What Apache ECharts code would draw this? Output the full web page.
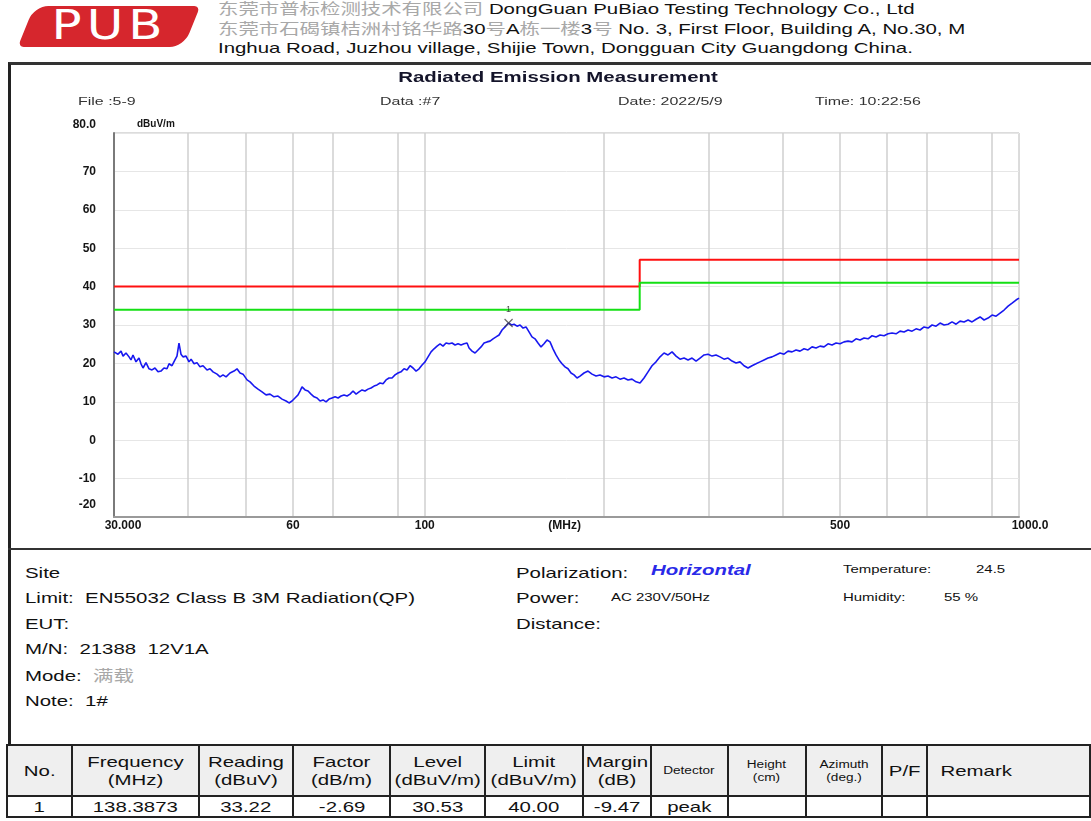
<!DOCTYPE html>
<html>
<head>
<meta charset="utf-8">
<title>Radiated Emission Measurement</title>
<script src="https://cdn.jsdelivr.net/npm/echarts@6/dist/echarts.min.js"></script>
<style>
html,body{margin:0;padding:0;background:#fff;}
body{width:1091px;height:821px;position:relative;overflow:hidden;font-family:'Liberation Sans',Arial,sans-serif;color:#111;}
.abs{position:absolute;white-space:nowrap;}
.sx{transform:scaleX(1.36);transform-origin:0 50%;}
.cn{font-family:'Noto Sans CJK SC',sans-serif;color:#a8a8a8;}
#logo{position:absolute;left:26px;top:6px;width:166px;height:41px;background:#d6262d;border-radius:14px 6px 14px 6px;transform:skewX(-22deg);}
#logo span{position:absolute;left:0;right:0;top:-4px;text-align:center;transform:skewX(22deg) scaleX(1.25);color:#fff;font:40px 'DejaVu Sans',sans-serif;letter-spacing:4px;}
#frame{position:absolute;left:8px;top:62px;width:1090px;height:683px;border-left:3px solid #222;border-top:3px solid #333;}
#sep{position:absolute;left:8px;top:548px;width:1090px;height:2px;background:#333;}
#chart{position:absolute;left:0;top:62px;width:1091px;height:487px;}
.info{font-size:15px;line-height:25.4px;}
.small{font-size:11px;}
table{position:absolute;left:6px;top:744px;border-collapse:collapse;table-layout:fixed;}
td{border:2px solid #222;text-align:center;padding:0;font-size:15px;line-height:18px;overflow:hidden;white-space:nowrap;}
tr.head td{background:#efefef;height:49px;}
tr.body td{background:#fff;height:19px;}
td span{display:inline-block;transform:scaleX(1.36);}
td.sm{font-size:10px;line-height:13px;}
</style>
</head>
<body>
<div id="logo"><span>PUB</span></div>
<div class="abs sx" style="left:218px;top:-2px;font-size:15px;line-height:19px;">
  <div><span class="cn">东莞市普标检测技术有限公司</span> DongGuan PuBiao Testing Technology Co., Ltd</div>
  <div><span class="cn">东莞市石碣镇桔洲村铭华路</span>30<span class="cn">号</span>A<span class="cn">栋一楼</span>3<span class="cn">号</span> No. 3, First Floor, Building A, No.30, M</div>
  <div>Inghua Road, Juzhou village, Shijie Town, Dongguan City Guangdong China.</div>
</div>

<div id="frame"></div>
<div id="chart"></div>
<div id="sep"></div>

<div class="abs sx info" style="left:25px;top:560px;">
  <div>Site</div>
  <div>Limit:&nbsp; EN55032 Class B 3M Radiation(QP)</div>
  <div>EUT:</div>
  <div>M/N:&nbsp; 21388&nbsp; 12V1A</div>
  <div>Mode:&nbsp; <span class="cn">满载</span></div>
  <div>Note:&nbsp; 1#</div>
</div>
<div class="abs sx info" style="left:516px;top:560px;">
  <div>Polarization:</div>
  <div>Power:</div>
  <div>Distance:</div>
</div>
<div class="abs sx" style="left:651px;top:561px;font-size:15px;font-weight:bold;font-style:italic;color:#2a2ae8;">Horizontal</div>
<div class="abs sx small" style="left:611px;top:591px;">AC 230V/50Hz</div>
<div class="abs sx small" style="left:843px;top:563px;">Temperature:</div>
<div class="abs sx small" style="left:976px;top:563px;">24.5</div>
<div class="abs sx small" style="left:843px;top:591px;">Humidity:</div>
<div class="abs sx small" style="left:944px;top:591px;">55 %</div>

<table id="tbl"></table>

<script>
// measured trace (MHz / dBuV/m)
const freq = [
  30.00, 30.23, 30.47, 30.83, 31.07, 31.43, 31.80, 32.04, 32.29, 32.67,
  33.05, 33.31, 33.57, 33.96, 34.36, 34.76, 35.16, 35.58, 35.99, 36.41,
  36.84, 37.13, 37.56, 37.99, 38.29, 38.59, 38.89, 39.19, 39.66, 40.12,
  40.44, 40.91, 41.38, 41.86, 42.36, 43.02, 43.52, 44.03, 44.72, 45.24,
  45.77, 46.31, 47.03, 47.76, 48.32, 48.89, 49.46, 50.24, 50.82, 51.61,
  52.42, 53.24, 54.07, 54.91, 55.77, 56.64, 57.53, 58.43, 59.11, 59.80,
  60.49, 61.21, 61.68, 62.16, 62.90, 63.63, 64.37, 65.13, 65.89, 66.66,
  67.44, 68.22, 69.02, 69.83, 70.65, 71.48, 72.31, 73.15, 74.01, 74.87,
  75.75, 76.64, 77.53, 78.44, 79.35, 80.28, 81.22, 82.17, 83.13, 84.10,
  85.08, 86.08, 87.08, 88.10, 89.13, 90.17, 91.22, 92.30, 93.38, 94.47,
  95.57, 96.69, 97.83, 98.97, 100.12, 101.29, 102.48, 103.68, 104.89, 106.12,
  107.35, 108.61, 109.88, 111.17, 112.47, 113.78, 115.11, 116.46, 117.82, 118.74,
  120.12, 121.53, 122.94, 124.38, 125.84, 127.31, 128.80, 130.30, 131.83, 133.37,
  134.93, 136.50, 138.3873, 140.01, 141.35, 143.00, 144.68, 146.37, 148.07, 149.80,
  151.54, 153.31, 155.10, 156.92, 158.75, 160.62, 162.49, 164.39, 166.31, 168.26,
  170.22, 172.22, 174.23, 176.27, 178.34, 180.42, 182.53, 185.38, 188.27, 191.21,
  194.20, 197.23, 200.31, 203.43, 206.62, 209.85, 213.12, 216.46, 219.84, 223.26,
  226.75, 230.30, 233.89, 237.55, 241.26, 245.03, 248.86, 252.75, 256.71, 260.72,
  264.80, 268.93, 273.13, 277.39, 281.73, 286.14, 290.60, 295.13, 299.78, 304.46,
  309.16, 313.98, 318.88, 323.87, 328.93, 334.08, 339.29, 344.58, 349.96, 355.42,
  360.99, 366.62, 372.34, 378.17, 384.08, 390.08, 396.17, 402.35, 408.64, 415.02,
  421.51, 428.09, 434.77, 441.57, 448.47, 455.49, 462.60, 469.82, 477.16, 484.61,
  492.20, 499.88, 507.68, 515.62, 523.67, 531.87, 540.17, 548.60, 557.18, 565.88,
  574.73, 583.70, 592.81, 602.09, 611.49, 621.05, 630.74, 640.58, 650.61, 660.77,
  671.11, 681.58, 692.21, 703.04, 714.02, 725.20, 736.51, 748.00, 759.71, 771.58,
  783.64, 795.87, 808.29, 820.93, 833.76, 846.81, 860.02, 873.44, 887.10, 900.96,
  915.05, 929.33, 943.83, 958.59, 973.57, 988.45, 1000
]
const level = [
  23.0, 23.5, 22.4, 23.2, 21.9, 22.7, 21.7, 20.9, 22.2, 20.4,
  21.4, 19.9, 18.8, 20.2, 18.6, 18.3, 18.8, 17.8, 18.0, 18.8,
  18.6, 19.9, 19.4, 20.9, 21.9, 25.3, 22.4, 21.7, 21.9, 20.4,
  21.1, 19.9, 20.2, 19.1, 19.4, 18.3, 18.6, 17.8, 17.2, 16.5,
  17.0, 16.5, 17.5, 18.0, 18.6, 17.5, 17.2, 15.7, 15.2, 14.1,
  13.3, 12.6, 11.8, 12.0, 11.3, 11.5, 10.7, 10.2, 9.7, 10.2,
  11.0, 11.8, 12.8, 13.9, 13.1, 12.8, 12.0, 11.3, 11.0, 10.2,
  10.5, 10.0, 10.7, 11.0, 11.3, 11.0, 11.5, 11.8, 11.5, 12.0,
  12.8, 12.0, 12.6, 13.1, 12.8, 13.3, 13.6, 14.1, 14.4, 14.9,
  14.7, 15.7, 16.2, 16.2, 17.0, 17.5, 17.8, 18.6, 18.3, 19.4,
  18.8, 18.0, 18.6, 19.6, 20.4, 21.7, 23.0, 23.8, 24.5, 25.1,
  24.5, 25.3, 25.1, 25.3, 24.8, 25.1, 24.8, 25.1, 25.3, 24.0,
  23.2, 22.7, 23.5, 24.3, 25.3, 25.6, 25.8, 26.4, 26.9, 27.4,
  28.7, 29.5, 30.53, 30.0, 30.2, 29.7, 30.0, 29.2, 29.5, 28.2,
  26.9, 26.4, 25.3, 24.3, 25.1, 26.1, 25.6, 23.8, 22.2, 20.9,
  19.9, 19.1, 18.6, 17.5, 17.0, 16.2, 16.7, 17.5, 18.0, 17.2,
  16.7, 17.0, 16.5, 16.7, 16.2, 16.5, 15.9, 16.2, 15.7, 15.9,
  15.2, 14.9, 16.2, 17.8, 19.4, 20.4, 21.7, 22.7, 22.2, 23.0,
  21.9, 21.1, 21.4, 20.9, 21.4, 20.6, 21.4, 22.2, 22.4, 21.9,
  22.2, 21.7, 21.1, 21.4, 20.6, 20.1, 20.4, 19.4, 18.8, 19.4,
  19.9, 20.4, 20.9, 21.4, 21.7, 22.2, 22.7, 22.4, 23.2, 23.0,
  23.5, 23.2, 23.8, 23.5, 24.3, 24.0, 24.5, 24.3, 25.1, 24.8,
  25.3, 25.1, 25.6, 25.8, 25.6, 26.4, 26.1, 26.6, 26.4, 27.2,
  26.9, 27.4, 27.2, 27.7, 27.9, 27.7, 28.4, 28.2, 28.7, 28.4,
  29.0, 28.7, 29.5, 29.2, 30.0, 29.7, 30.5, 30.0, 30.2, 30.8,
  30.2, 31.0, 30.8, 31.3, 30.8, 31.5, 32.1, 31.3, 31.8, 32.6,
  32.3, 33.1, 33.9, 34.9, 35.7, 36.5, 37.0
]

// EN55032 class B limit and the -6 dB line
const limitFreq = [30, 230, 230, 1000]
const limitQP = [40, 40, 47, 47]
const limitWarn = [34, 34, 41, 41]

// peak marker
const peakFreq = [138.3873]
const peakLevel = [30.53]
const peakNo = ['1']

// axis
const xGridValues = [40, 50, 60, 70, 90, 100, 200, 300, 400, 500, 600, 700, 900]
const xLabelValues = [30, 60, 100, 172, 500, 1000]
const xLabelText = ['30.000', '60', '100', '(MHz)', '500', '1000.0']

// table
const tableHead = ['No.', 'Frequency<br>(MHz)', 'Reading<br>(dBuV)', 'Factor<br>(dB/m)', 'Level<br>(dBuV/m)',
  'Limit<br>(dBuV/m)', 'Margin<br>(dB)', 'Detector', 'Height<br>(cm)', 'Azimuth<br>(deg.)', 'P/F', 'Remark']
const tableRow = ['1', '138.3873', '33.22', '-2.69', '30.53', '40.00', '-9.47', 'peak', '', '', '', '']
const colWidth = [65, 127, 95, 97, 95, 98, 68, 77, 78, 77, 45, 163]
const smallCols = [7, 8, 9]

function buildTable(){
  let html = '<colgroup>' + colWidth.map(w => `<col style="width:${w}px">`).join('') + '</colgroup>'
  html += '<tr class="head">' + tableHead.map((t, i) => {
    const cls = smallCols.includes(i) ? ' class="sm"' : ''
    const st = i === 11 ? ' style="text-align:left;padding-left:22px"' : ''
    return `<td${cls}${st}><span>${t}</span></td>`
  }).join('') + '</tr>'
  html += '<tr class="body">' + tableRow.map(t => `<td><span>${t}</span></td>`).join('') + '</tr>'
  document.getElementById('tbl').innerHTML = html
}

function nearestLabel(v){
  let best = 0
  for (let i = 1; i < xLabelValues.length; i++) {
    if (Math.abs(Math.log(xLabelValues[i] / v)) < Math.abs(Math.log(xLabelValues[best] / v))) best = i
  }
  return best
}

let chart
let labelStyle = {fontSize: 12, fontWeight: 'bold', color: '#151515', fontFamily: 'Liberation Sans'}

let option = {
  animation: false,
  grid: {
    left: 114, right: 72, top: 71, bottom: 32,
    show: true, borderColor: '#b8b8b8', borderWidth: 1
  },
  xAxis: {
    type: 'log', logBase: 10, min: 30, max: 1000,
    axisLine: {show: true, onZero: false, lineStyle: {color: '#9a9a9a', width: 2}},
    axisTick: {show: false, customValues: xGridValues},
    splitLine: {show: true, lineStyle: {color: '#cfcfcf', width: 1.5}},
    axisLabel: {
      customValues: xLabelValues,
      margin: 3,
      ...labelStyle,
      formatter: (v) => {
        const i = nearestLabel(v)
        if (i === 0) return `{first|${xLabelText[i]}}`
        if (i === xLabelValues.length - 1) return `{last|${xLabelText[i]}}`
        return xLabelText[i]
      },
      rich: {
        first: {...labelStyle, padding: [0, 0, 0, 18]},
        last: {...labelStyle, padding: [0, 0, 0, 22]}
      }
    }
  },
  yAxis: {
    type: 'value', min: -20, max: 80, interval: 10,
    name: 'dBuV/m', nameLocation: 'end', nameGap: 4,
    nameTextStyle: {align: 'left', padding: [0, 0, 0, 23], fontSize: 10, fontWeight: 'bold', color: '#151515'},
    axisLine: {show: true, lineStyle: {color: '#7a7a7a', width: 2}},
    axisTick: {show: false},
    splitLine: {show: true, lineStyle: {color: '#e6e6e6', width: 1}},
    axisLabel: {
      margin: 18,
      ...labelStyle,
      formatter: (v) => {
        if (v === 80) return '{t|80.0}'
        if (v === -20) return '{b|-20}'
        return String(v)
      },
      rich: {
        t: {...labelStyle, padding: [0, 0, 16, 0]},
        b: {...labelStyle, padding: [0, 0, 24, 0]}
      }
    }
  },
  graphic: [
    {type: 'text', x: 558, y: 16, scaleX: 1.36, style: {text: 'Radiated Emission Measurement', fontSize: 15, fontWeight: 'bold', fill: '#14142a', fontFamily: 'Liberation Sans', align: 'center', verticalAlign: 'middle'}},
    {type: 'text', x: 78, y: 40, scaleX: 1.45, style: {text: 'File :5-9', fontSize: 11, fill: '#333', fontFamily: 'Liberation Sans', verticalAlign: 'middle'}},
    {type: 'text', x: 380, y: 40, scaleX: 1.45, style: {text: 'Data :#7', fontSize: 11, fill: '#333', fontFamily: 'Liberation Sans', verticalAlign: 'middle'}},
    {type: 'text', x: 618, y: 40, scaleX: 1.45, style: {text: 'Date: 2022/5/9', fontSize: 11, fill: '#333', fontFamily: 'Liberation Sans', verticalAlign: 'middle'}},
    {type: 'text', x: 815, y: 40, scaleX: 1.45, style: {text: 'Time: 10:22:56', fontSize: 11, fill: '#333', fontFamily: 'Liberation Sans', verticalAlign: 'middle'}}
  ],
  series: [
    {
      name: 'Limit', type: 'line', symbol: 'none', z: 3,
      lineStyle: {color: '#ff1010', width: 2},
      data: limitFreq.map((f, i) => [f, limitQP[i]])
    },
    {
      name: 'Margin', type: 'line', symbol: 'none', z: 3,
      lineStyle: {color: '#14e014', width: 2},
      data: limitFreq.map((f, i) => [f, limitWarn[i]])
    },
    {
      name: 'Level', type: 'line', symbol: 'none', z: 4,
      lineStyle: {color: '#1818f0', width: 1.6},
      data: freq.map((f, i) => [f, level[i]])
    },
    {
      name: 'Peak', type: 'scatter', z: 5,
      symbol: 'path://M0,0L10,10M10,0L0,10',
      symbolSize: 8,
      itemStyle: {color: 'none', borderColor: '#444', borderWidth: 1.2},
      label: {show: true, position: 'top', distance: 2, fontSize: 9, color: '#222', formatter: (p) => peakNo[p.dataIndex]},
      data: peakFreq.map((f, i) => [f, peakLevel[i]])
    }
  ]
}

function initChart(){
  chart = echarts.init(document.getElementById('chart'))
  chart.setOption(option)
}

buildTable()
initChart()
</script>
</body>
</html>
